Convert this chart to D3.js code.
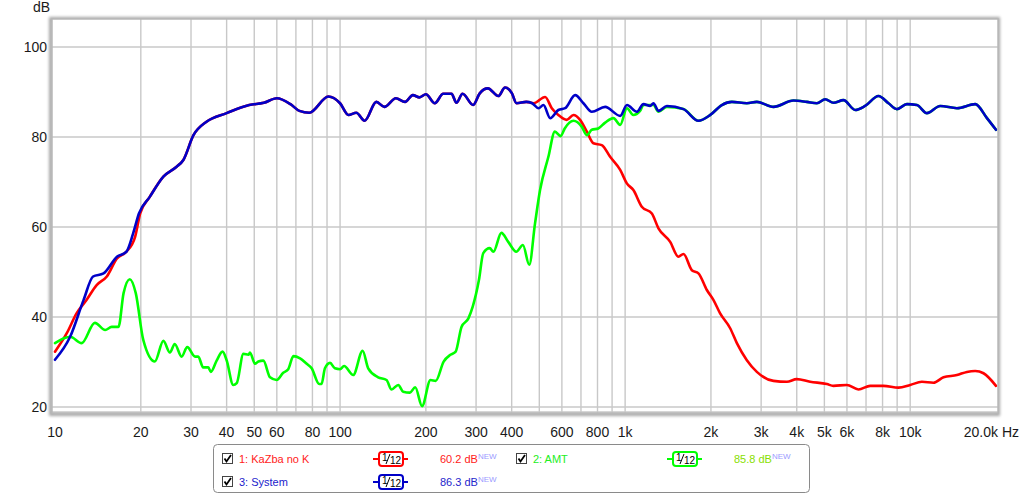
<!DOCTYPE html>
<html><head><meta charset="utf-8">
<script src="https://cdn.jsdelivr.net/npm/d3@7/dist/d3.min.js"></script>
<style>html,body{margin:0;padding:0;background:#fff;}svg{display:block;font-family:"Liberation Sans",Arial,sans-serif;}</style>
</head><body><svg id="c" width="1024" height="495"></svg>
<script>
// ---- data ----
const xTickValues = [10,20,30,40,50,60,80,100,200,300,400,600,800,1000,2000,3000,4000,5000,6000,8000,10000];
const xTickLabels = ["10","20","30","40","50","60","80","100","200","300","400","600","800","1k","2k","3k","4k","5k","6k","8k","10k"];
const xGridValues = [20,30,40,50,60,70,80,90,100,200,300,400,500,600,700,800,900,1000,2000,3000,4000,5000,6000,7000,8000,9000,10000];
const yTickValues = [20,40,60,80,100];

const systemData = [[10,30.5],[11.3,35.6],[12.6,43.8],[13.6,49],[14.8,49.7],[16.5,53.4],[17.8,54.5],[18.8,58.6],[19.7,63],[21.5,66.7],[24,71.2],[26.7,73.4],[28.2,74.9],[30.6,80.4],[34,83.4],[40,85.3],[48,87.1],[54,87.6],[60,88.6],[67,87.3],[72,85.8],[78,85.4],[91,89],[100,87.5],[107,84.9],[114,85.4],[122,83.6],[134,87.8],[143,86.7],[157,88.6],[169,87.8],[180,89.3],[190,88.8],[200,89.5],[215,87.5],[230,89.6],[246,89.6],[256,87.6],[269,89.6],[293,87.1],[309,89.7],[330,90.8],[359,89.1],[379,91],[400,89.8],[416,87.5],[450,87.8],[472,87.5],[497,86.4],[517,87.1],[546,84.2],[583,86],[616,86.4],[668,89.3],[714,87.5],[764,85.6],[851,86.7],[961,84.7],[1015,87.1],[1099,85.6],[1160,87.3],[1224,86.9],[1257,87.5],[1309,85.8],[1401,86.9],[1602,86.2],[1808,83.6],[1990,84.9],[2184,87.1],[2368,87.8],[2673,87.5],[2898,87.8],[3314,86.7],[3895,88.1],[4340,87.8],[4706,87.5],[5033,88.4],[5381,87.6],[5834,88.2],[6412,86],[6950,86.9],[7742,89.1],[8393,87.5],[8981,86.2],[9736,87.3],[10556,87.1],[11445,85.3],[12745,86.9],[14585,86.4],[16910,87.3],[18590,84.2],[20000,81.6]];

const kazbaData = [[10,32.3],[11,36.4],[11.9,40.8],[12.9,43.8],[14,47.1],[15.2,49],[16.5,53],[17.8,54.5],[19.1,57.8],[19.9,63],[21.5,66.7],[24,71.2],[26.7,73.4],[28.2,74.9],[30.6,80.4],[34,83.4],[40,85.3],[48,87.1],[54,87.6],[60,88.6],[67,87.3],[72,85.8],[78,85.4],[91,89],[100,87.5],[107,84.9],[114,85.4],[122,83.6],[134,87.8],[143,86.7],[157,88.6],[169,87.8],[180,89.3],[190,88.8],[200,89.5],[215,87.5],[230,89.6],[246,89.6],[256,87.6],[269,89.6],[293,87.1],[309,89.7],[330,90.8],[359,89.1],[379,91],[400,89.8],[416,87.5],[450,87.8],[478,87.5],[524,88.9],[553,86.4],[583,84.9],[624,83.8],[659,84.9],[695,83.8],[734,81.2],[774,78.6],[828,78.2],[886,75.6],[961,72.7],[1014,69.7],[1069,68.2],[1144,64.5],[1241,63],[1309,59.7],[1439,56.7],[1538,53.4],[1602,54],[1714,50.4],[1808,49.7],[1935,46],[2040,43.8],[2154,40.8],[2336,37.5],[2466,34.2],[2673,30.4],[2898,27.8],[3314,25.8],[3694,25.6],[4000,26.2],[4457,25.6],[5103,25.1],[5381,24.7],[5996,24.9],[6586,23.9],[7238,24.7],[8058,24.7],[9100,24.3],[10000,24.9],[10990,25.6],[12070,25.4],[13090,26.6],[14585,27.1],[15810,27.8],[16910,28],[18080,27.5],[20000,24.7]];

const amtData = [[10,34.2],[11.3,35.6],[12.4,34.2],[13.8,38.7],[15,37.1],[15.8,37.8],[16.7,37.8],[17.4,45.3],[18.3,48.4],[19.2,45.3],[20.4,34.9],[22.4,30.1],[24,34.7],[25.3,32.1],[26.3,34],[27.8,31.2],[29.1,33.3],[31,31.2],[31.8,31.2],[33.1,28.8],[34.5,28.8],[35.2,27.8],[36.9,30.3],[38.7,32.3],[40,30.4],[42.2,24.9],[43.4,25.3],[45.8,31.8],[47.7,31.6],[48.3,32.1],[50.3,29.6],[51.7,30.1],[53.8,30.3],[56.8,26.6],[59.9,26],[63.2,27.6],[65.8,28.4],[68.6,31.3],[72.4,30.8],[76.4,29.6],[79.5,28.6],[84.5,25.1],[86.1,25.1],[88.5,28.6],[92.2,29.8],[95.9,28.6],[100,28.4],[103.3,29.1],[111.2,27.1],[120,32.5],[125.5,28.6],[136,26.6],[145.5,26],[151.6,23.9],[160,24.9],[166.5,23.4],[175.9,23.2],[183.5,24.4],[193.9,20.2],[207.6,26],[216.5,25.8],[230.9,30.1],[243.9,31.6],[254.4,32.3],[266.7,37.8],[282,39.7],[292,42.3],[307,48.2],[318,54.2],[335,55.3],[345,54.5],[368,58.7],[389,56.7],[415,54.5],[438,56],[461,51.6],[483,60.8],[503,68.2],[538,75.6],[567,81.2],[594,80.2],[614,81.9],[659,83.6],[704,82.3],[734,80.4],[764,81.6],[805,81.9],[851,83.2],[910,84.2],[961,82.7],[1015,86.4],[1068,84.9],[1128,85.8],[1160,87.1],[1257,87.1],[1309,85.6],[1401,86.7],[1602,86.2],[1808,83.6],[1990,84.9],[2184,87.1],[2368,87.8],[2673,87.5],[2898,87.8],[3314,86.7],[3895,88.1],[4340,87.8],[4706,87.5],[5033,88.4],[5381,87.6],[5834,88.2],[6412,86],[6950,86.9],[7742,89.1],[8393,87.5],[8981,86.2],[9736,87.3],[10556,87.1],[11445,85.3],[12745,86.9],[14585,86.4],[16910,87.3],[18590,84.2],[20000,81.6]];

const legendItems = [
  {name:"1: KaZba no K", level:"60.2 dB", color:"#ff0000", text:"#ff1a1a", lvlColor:"#ff2020", col:0, row:0},
  {name:"2: AMT", level:"85.8 dB", color:"#00ff00", text:"#22ee22", lvlColor:"#88e000", col:1, row:0},
  {name:"3: System", level:"86.3 dB", color:"#0000c8", text:"#1a1acc", lvlColor:"#2424cc", col:0, row:1}
];

// ---- layout ----
const svg = d3.select("#c");
const L = 52, T = 19, R = 998, B = 413;
const x = d3.scaleLog().domain([10, 20000]).range([55, 996]);
const y = d3.scaleLinear().domain([20, 100]).range([407, 47]);

const defs = svg.append("defs");
defs.append("clipPath").attr("id","clip").append("rect").attr("x",L).attr("y",T).attr("width",R-L).attr("height",B-T);
const f = defs.append("filter").attr("id","sh").attr("x","-5%").attr("y","-5%").attr("width","110%").attr("height","110%");
f.append("feGaussianBlur").attr("stdDeviation",1.6);

// frame shadow
svg.append("rect").attr("x",L-1).attr("y",T).attr("width",R-L+1).attr("height",B-T+1)
  .attr("fill","none").attr("stroke","#a8a8a8").attr("stroke-width",4).attr("filter","url(#sh)");
svg.append("rect").attr("x",L).attr("y",T).attr("width",R-L).attr("height",B-T).attr("fill","#fff");

// grid
const g = svg.append("g").attr("clip-path","url(#clip)");
g.selectAll(".vg").data(xGridValues).join("line")
  .attr("x1",d=>x(d)).attr("x2",d=>x(d)).attr("y1",T).attr("y2",B)
  .attr("stroke","#c8c8c8").attr("stroke-width",1.4);
g.selectAll(".hg").data(yTickValues).join("line")
  .attr("x1",L).attr("x2",R).attr("y1",d=>y(d)).attr("y2",d=>y(d))
  .attr("stroke","#c8c8c8").attr("stroke-width",1.4);
// inner bottom line
g.append("line").attr("x1",L).attr("x2",R).attr("y1",B-1).attr("y2",B-1).attr("stroke","#c8c8c8").attr("stroke-width",1.4);

svg.append("rect").attr("x",L).attr("y",T).attr("width",R-L).attr("height",B-T)
  .attr("fill","none").attr("stroke","#b8b8b8").attr("stroke-width",1.5);

// curves
const line = d3.line().x(d=>x(d[0])).y(d=>y(d[1])).curve(d3.curveMonotoneX);
[[kazbaData,"#ff0000"],[amtData,"#00ff00"],[systemData,"#0000c8"]].forEach(([data,c])=>{
  g.append("path").datum(data).attr("d",line).attr("fill","none").attr("stroke",c)
   .attr("stroke-width",2.6).attr("stroke-linejoin","round").attr("stroke-linecap","round");
});

// axes labels
const xa = svg.append("g").attr("font-size",14).attr("fill","#1a1a1a");
xa.selectAll("text").data(xTickValues).join("text")
  .attr("x",d=>x(d)).attr("y",437).attr("text-anchor","middle").text((d,i)=>xTickLabels[i]);
xa.append("text").attr("x",1019).attr("y",437).attr("text-anchor","end").text("20.0k Hz");

const ya = svg.append("g").attr("font-size",14).attr("fill","#1a1a1a");
ya.selectAll("text").data(yTickValues).join("text")
  .attr("x",47).attr("y",d=>y(d)+5).attr("text-anchor","end").text(d=>d);
ya.append("text").attr("x",50).attr("y",12).attr("text-anchor","end").text("dB");

// legend
const lg = svg.append("g");
lg.append("rect").attr("x",213.5).attr("y",444.5).attr("width",596).attr("height",48).attr("rx",4)
  .attr("fill","#fff").attr("stroke","#8a8a8a").attr("stroke-width",1);
const colX = [0, 294], rowY = [459, 482];
legendItems.forEach(it=>{
  const ox = 222 + colX[it.col], cy = rowY[it.row];
  const item = lg.append("g");
  // checkbox
  item.append("rect").attr("x",ox+0.5).attr("y",cy-5.5).attr("width",10).attr("height",10)
    .attr("fill","#fff").attr("stroke","#444").attr("stroke-width",1);
  item.append("path").attr("d",`M${ox+2.5},${cy-0.5} L${ox+4.5},${cy+2.5} L${ox+9},${cy-4}`)
    .attr("fill","none").attr("stroke","#000").attr("stroke-width",1.8);
  item.append("text").attr("x",ox+17).attr("y",cy+4).attr("font-size",11).attr("fill",it.text).text(it.name);
  // filter icon
  const ix = ox + 151;
  item.append("line").attr("x1",ix).attr("x2",ix+35).attr("y1",cy).attr("y2",cy).attr("stroke",it.color).attr("stroke-width",2);
  item.append("rect").attr("x",ix+6).attr("y",cy-7).attr("width",24).attr("height",14).attr("rx",3)
    .attr("fill","#fff").attr("stroke",it.color).attr("stroke-width",2);
  item.append("text").attr("x",ix+9).attr("y",cy+2).attr("font-size",10).attr("fill","#000").text("1");
  item.append("line").attr("x1",ix+13).attr("x2",ix+17).attr("y1",cy+5).attr("y2",cy-5).attr("stroke","#000").attr("stroke-width",1);
  item.append("text").attr("x",ix+17).attr("y",cy+5).attr("font-size",10).attr("fill","#000").text("12");
  // level
  const t = item.append("text").attr("x",ox+218).attr("y",cy+4).attr("font-size",11).attr("fill",it.lvlColor);
  t.append("tspan").text(it.level);
  t.append("tspan").attr("dy",-4).attr("font-size",8).attr("fill","#9a9aff").text("NEW");
});
</script></body></html>
